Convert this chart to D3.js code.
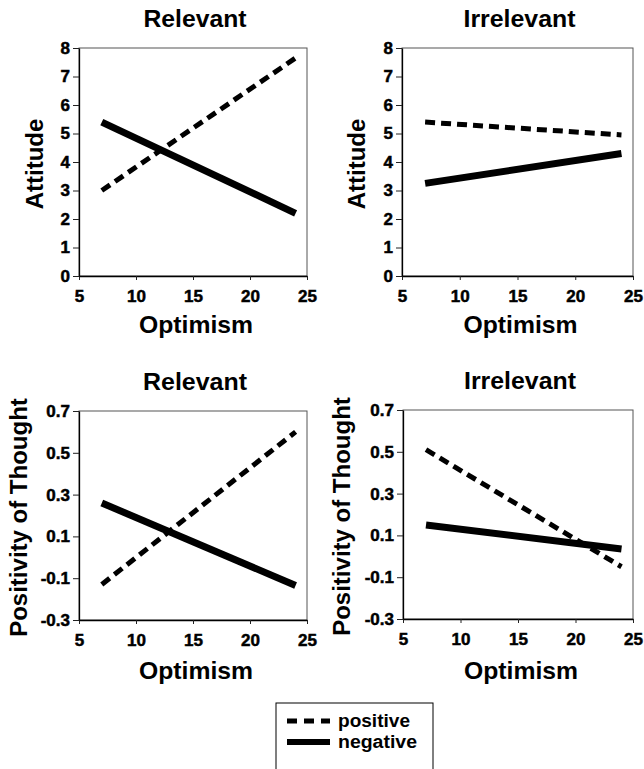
<!DOCTYPE html>
<html>
<head>
<meta charset="utf-8">
<script src="https://cdn.jsdelivr.net/npm/d3@7"></script>
<style>
    body { margin: 0; background: #fff; }
    text { font-family: Arial, "Liberation Sans", sans-serif; font-weight: bold; fill: #000; }
</style>
</head>
<body>
<script>
    // Data
    var optimism = [7, 24];
    var xTicks = [5, 10, 15, 20, 25];
    var attitudeTicks = [0, 1, 2, 3, 4, 5, 6, 7, 8];
    var thoughtTicks = [-0.3, -0.1, 0.1, 0.3, 0.5, 0.7];

    var attitudeRelevantPositive = [3.0, 7.65];
    var attitudeRelevantNegative = [5.4, 2.2];
    var attitudeIrrelevantPositive = [5.4, 4.95];
    var attitudeIrrelevantNegative = [3.25, 4.3];
    var thoughtRelevantPositive = [-0.13, 0.6];
    var thoughtRelevantNegative = [0.26, -0.135];
    var thoughtIrrelevantPositive = [0.51, -0.05];
    var thoughtIrrelevantNegative = [0.15, 0.035];

    var legendLabels = ["positive", "negative"];

    // Panels
    var panels = [
        { title: "Relevant", titleW: 103, yLabel: "Attitude", yLabelOff: 36, ticks: attitudeTicks, fmt: d3.format("d"),
          left: 79, right: 307, top: 48, bottom: 276, xLabelY: 333, pos: attitudeRelevantPositive, neg: attitudeRelevantNegative },
        { title: "Irrelevant", titleW: 112, yLabel: "Attitude", yLabelOff: 37, ticks: attitudeTicks, fmt: d3.format("d"),
          left: 402, right: 633, top: 48, bottom: 276, xLabelY: 333, pos: attitudeIrrelevantPositive, neg: attitudeIrrelevantNegative },
        { title: "Relevant", titleW: 104, yLabel: "Positivity of Thought", yLabelOff: 52, ticks: thoughtTicks, fmt: function(d) { return d.toFixed(1); },
          left: 79, right: 307, top: 411, bottom: 620, xLabelY: 679, pos: thoughtRelevantPositive, neg: thoughtRelevantNegative },
        { title: "Irrelevant", titleW: 112, yLabel: "Positivity of Thought", yLabelOff: 53, ticks: thoughtTicks, fmt: function(d) { return d.toFixed(1); },
          left: 403, right: 633, top: 410, bottom: 619, xLabelY: 679, pos: thoughtIrrelevantPositive, neg: thoughtIrrelevantNegative }
    ];

    var svg = d3.select("body").append("svg")
        .attr("width", 644)
        .attr("height", 769);

    var drawPanel = function(p) {
        var x = d3.scaleLinear().domain([5, 25]).range([p.left, p.right]);
        var y = d3.scaleLinear().domain([p.ticks[0], p.ticks[p.ticks.length - 1]]).range([p.bottom, p.top]);
        var g = svg.append("g");

        // frame
        g.append("rect")
            .attr("x", p.left).attr("y", p.top)
            .attr("width", p.right - p.left).attr("height", p.bottom - p.top)
            .attr("fill", "none").attr("stroke", "#555").attr("stroke-width", 1);

        var xAxis = g.append("g")
            .attr("transform", "translate(0," + p.bottom + ")")
            .call(d3.axisBottom(x).tickValues(xTicks).tickSizeInner(4).tickSizeOuter(0).tickPadding(10).tickFormat(d3.format("d")));
        var yAxis = g.append("g")
            .attr("transform", "translate(" + p.left + ",0)")
            .call(d3.axisLeft(y).tickValues(p.ticks).tickSizeInner(6).tickSizeOuter(0).tickPadding(3).tickFormat(p.fmt));

        [xAxis, yAxis].forEach(function(a) {
            a.attr("font-size", 17)
                .attr("font-weight", "bold")
                .attr("font-family", "Arial, 'Liberation Sans', sans-serif");
            a.selectAll("text")
                .attr("font-weight", "bold")
                .attr("fill", "#000")
                .attr("stroke", "#000")
                .attr("stroke-width", 0.5);
            a.select(".domain").attr("stroke", "#000").attr("stroke-width", 1.3);
            a.selectAll(".tick line").attr("stroke", "#222");
        });

        var line = d3.line()
            .x(function(d, i) { return x(optimism[i]); })
            .y(function(d) { return y(d); });

        g.append("path")
            .attr("d", line(p.neg))
            .attr("fill", "none").attr("stroke", "#000").attr("stroke-width", 7);
        g.append("path")
            .attr("d", line(p.pos))
            .attr("fill", "none").attr("stroke", "#000").attr("stroke-width", 5)
            .attr("stroke-dasharray", "10,6");

        var cx = (p.left + p.right) / 2;
        g.append("text")
            .attr("x", cx + 2).attr("y", p.top - 21)
            .attr("text-anchor", "middle")
            .attr("textLength", p.titleW).attr("lengthAdjust", "spacingAndGlyphs")
            .style("font-size", "24px")
            .text(p.title);
        g.append("text")
            .attr("x", cx + 3).attr("y", p.xLabelY)
            .attr("text-anchor", "middle")
            .attr("textLength", 114).attr("lengthAdjust", "spacingAndGlyphs")
            .style("font-size", "24px")
            .text("Optimism");
        g.append("text")
            .attr("transform", "translate(" + (p.left - p.yLabelOff) + "," + ((p.top + p.bottom) / 2 + 2) + ") rotate(-90)")
            .attr("text-anchor", "middle")
            .style("font-size", "24px")
            .text(p.yLabel);
    };

    panels.forEach(drawPanel);

    // Legend
    var legend = svg.append("g");
    legend.append("rect")
        .attr("x", 276).attr("y", 703)
        .attr("width", 157).attr("height", 90)
        .attr("fill", "none").attr("stroke", "#000").attr("stroke-width", 1);

    var legendY = d3.scalePoint().domain(legendLabels).range([721, 742]);
    legendLabels.forEach(function(l, i) {
        legend.append("line")
            .attr("x1", 287).attr("x2", 330)
            .attr("y1", legendY(l)).attr("y2", legendY(l))
            .attr("stroke", "#000")
            .attr("stroke-width", i === 0 ? 5 : 6)
            .attr("stroke-dasharray", i === 0 ? "10,7" : null);
        legend.append("text")
            .attr("x", 338).attr("y", legendY(l) + 6)
            .attr("textLength", i === 0 ? 72 : 79).attr("lengthAdjust", "spacingAndGlyphs")
            .style("font-size", "18px")
            .text(l);
    });
</script>
</body>
</html>
